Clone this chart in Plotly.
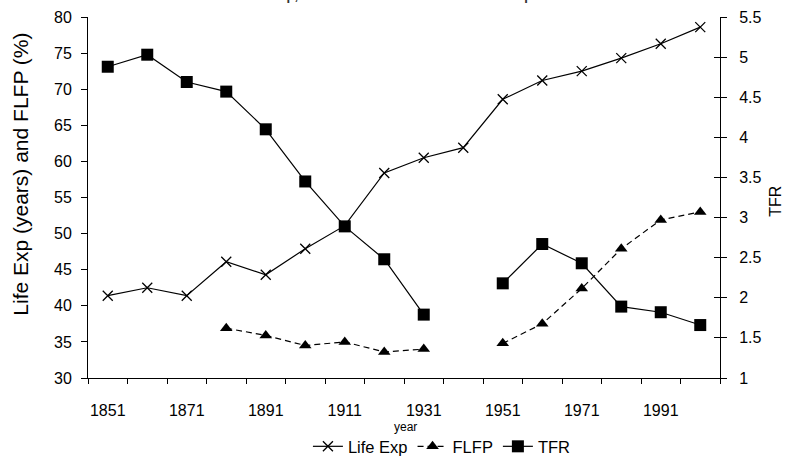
import plotly.graph_objects as go

years = [1851, 1861, 1871, 1881, 1891, 1901, 1911, 1921, 1931, 1941, 1951, 1961, 1971, 1981, 1991, 2001]
life_exp = [41.4, 42.5, 41.4, 46.1, 44.3, 47.9, 51.1, 58.4, 60.5, 61.9, 68.6, 71.2, 72.5, 74.3, 76.3, 78.6]
flfp = [None, None, None, 36.9, 35.9, 34.5, 35.0, 33.6, 34.0, None, 34.8, 37.5, 42.4, 47.9, 51.9, 53.0]
tfr = [4.88, 5.03, 4.69, 4.57, 4.10, 3.45, 2.89, 2.48, 1.79, None, 2.18, 2.67, 2.43, 1.89, 1.82, 1.66]
x_labels = [1851, 1871, 1891, 1911, 1931, 1951, 1971, 1991]
x_bounds = [1846 + 10 * i for i in range(17)]

FONT = "Liberation Sans, Arial, sans-serif"

fig = go.Figure()
fig.add_trace(go.Scatter(x=years, y=life_exp, name="Life Exp", mode="lines+markers",
                         line=dict(color="black", width=1.2),
                         marker=dict(symbol="x-thin", size=10, line=dict(color="black", width=1.3))))
fig.add_trace(go.Scatter(x=years, y=flfp, name="FLFP", mode="lines+markers",
                         line=dict(color="black", width=1.2, dash="6px,4px"),
                         marker=dict(symbol="triangle-up", size=11, color="black")))
fig.add_trace(go.Scatter(x=years, y=tfr, name="TFR", mode="lines+markers", yaxis="y2",
                         line=dict(color="black", width=1.2),
                         marker=dict(symbol="square", size=12, color="black")))
fig.add_trace(go.Scatter(x=[], y=[], yaxis="y3", showlegend=False, hoverinfo="skip"))

fig.update_layout(
    width=788, height=462,
    margin=dict(l=88, r=68, t=17, b=84, autoexpand=False),
    paper_bgcolor="white", plot_bgcolor="white",
    font=dict(family=FONT, size=16, color="black"),
    showlegend=True,
    legend=dict(orientation="h", x=0.56, xanchor="center", y=-0.19, yanchor="middle",
                font=dict(size=16.5), itemwidth=30, tracegroupgap=0),
    xaxis=dict(range=[1846, 2006], tickmode="array", tickvals=x_labels,
               ticktext=[str(v) for v in x_labels], ticks="", showgrid=False, zeroline=False,
               showline=True, linecolor="black", linewidth=1, ticklabelstandoff=18,
               minor=dict(tickmode="array", tickvals=x_bounds, ticks="outside", ticklen=5,
                          tickcolor="black", tickwidth=1, showgrid=False)),
    yaxis=dict(range=[30, 80], dtick=5, ticks="outside", ticklen=6, tickcolor="black",
               showgrid=False, zeroline=False, showline=True, linecolor="black", linewidth=1,
               ticklabelstandoff=6),
    yaxis2=dict(range=[1, 5.5], dtick=0.5, overlaying="y", side="right", ticks="outside",
                ticklen=6, tickcolor="black", showgrid=False, zeroline=False, showline=True,
                linecolor="black", linewidth=1, ticklabelstandoff=9),
    yaxis3=dict(range=[1, 5.5], dtick=0.5, overlaying="y", side="right", ticks="inside",
                ticklen=6, tickcolor="black", showgrid=False, zeroline=False, showline=False,
                showticklabels=False),
)

fig.add_annotation(text="Life Exp (years) and FLFP (%)", xref="paper", yref="paper",
                   x=(21 - 88) / 632, y=(378.3 - 175) / 361, xanchor="center", yanchor="middle",
                   textangle=-90, showarrow=False, font=dict(size=21))
fig.add_annotation(text="TFR", xref="paper", yref="paper",
                   x=(776 - 88) / 632, y=(378.3 - 202) / 361, xanchor="center", yanchor="middle",
                   textangle=-90, showarrow=False, font=dict(size=16))
fig.add_annotation(text="year", xref="paper", yref="paper",
                   x=(405 - 88) / 632, y=(378.3 - 427) / 361, xanchor="center", yanchor="middle",
                   showarrow=False, font=dict(size=12))
fig.add_annotation(text="<b>Life Exp, TFR and Female Labor Force Participation</b>", xref="paper",
                   yref="paper", x=(403 - 88) / 632, y=(378.3 - 5) / 361, xanchor="center",
                   yanchor="bottom", showarrow=False, font=dict(size=13, color="#333333"))

fig.write_html("out.html", post_script="document.body.style.margin='0px';",
               config={"displayModeBar": False})
